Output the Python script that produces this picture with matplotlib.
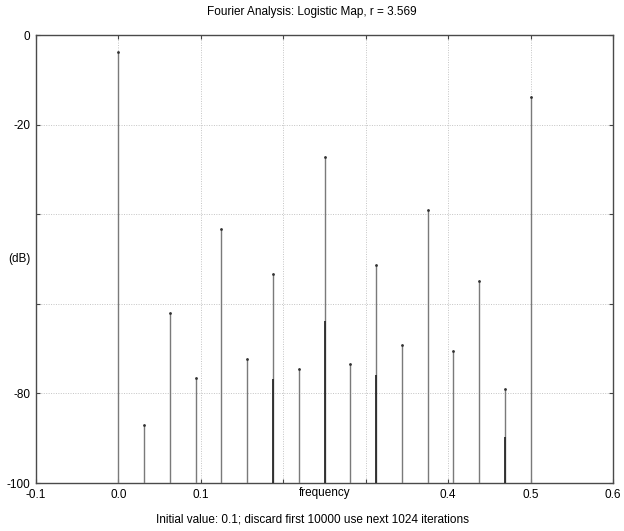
import numpy as np
import matplotlib.pyplot as plt
from matplotlib.ticker import FixedLocator, FixedFormatter

plt.rcParams['font.family'] = ['Liberation Sans', 'DejaVu Sans']

# spectrum of the logistic map orbit, bins at k/32
freq = [0.0, 0.03125, 0.0625, 0.09375, 0.125, 0.15625, 0.1875, 0.21875,
        0.25, 0.28125, 0.3125, 0.34375, 0.375, 0.40625, 0.4375, 0.46875, 0.5]
power_db = [-3.9, -87.0, -62.0, -76.5, -43.4, -72.4, -53.4, -74.5,
            -27.3, -73.5, -51.3, -69.1, -39.0, -70.6, -54.8, -79.0, -13.8]

# second (overlaid) set of lines, drawn darker
freq2 = [0.1875, 0.25, 0.3125, 0.46875]
power2_db = [-76.8, -63.9, -75.9, -89.8]

xticks = [-0.1, 0.0, 0.1, 0.2, 0.3, 0.4, 0.5, 0.6]
xlabels = ['-0.1', '0.0', '0.1', '', '', '0.4', '0.5', '0.6']
yticks = [-100, -80, -60, -40, -20, 0]
ylabels = ['-100', '-80', '', '', '-20', '0']

fig = plt.figure(figsize=(6.24, 5.31), dpi=100)
ax = fig.add_axes([36/624, 1 - 483/531, 577/624, 448/531])

ax.vlines(freq, -100, power_db, color='#7a7a7a', lw=1.0, zorder=3)
ax.plot(freq, power_db, '.', color='#333333', ms=2.0, zorder=4)
ax.vlines(freq2, -100, power2_db, color='#2a2a2a', lw=1.3, zorder=4)

ax.set_xlim(-0.1, 0.6)
ax.set_ylim(-100, 0)
ax.xaxis.set_major_locator(FixedLocator(xticks))
ax.xaxis.set_major_formatter(FixedFormatter(xlabels))
ax.yaxis.set_major_locator(FixedLocator(yticks))
ax.yaxis.set_major_formatter(FixedFormatter(ylabels))

ax.grid(True, ls=(0, (1, 1.5)), color='#c4c4c4', lw=0.7)
ax.tick_params(direction='in', top=True, right=True, length=3, width=0.8,
               color='#444444', labelsize=8.5, pad=4)
for s in ax.spines.values():
    s.set_color('#4a4a4a')
    s.set_linewidth(1.0)

ax.set_xlabel('frequency', fontsize=8.5, va='top')
ax.xaxis.set_label_coords(0.5, -0.0095)
ax.set_ylabel('(dB)', fontsize=8.5, rotation=0, ha='right', va='center')
ax.yaxis.set_label_coords(-0.01, 0.5)

fig.text(0.5, 1 - 12/531, 'Fourier Analysis: Logistic Map, r = 3.569',
         ha='center', va='center', fontsize=8.5)
fig.text(0.5, 1 - 520/531,
         'Initial value: 0.1; discard first 10000 use next 1024 iterations',
         ha='center', va='center', fontsize=8.5)

fig.savefig('out.png', dpi=100)
